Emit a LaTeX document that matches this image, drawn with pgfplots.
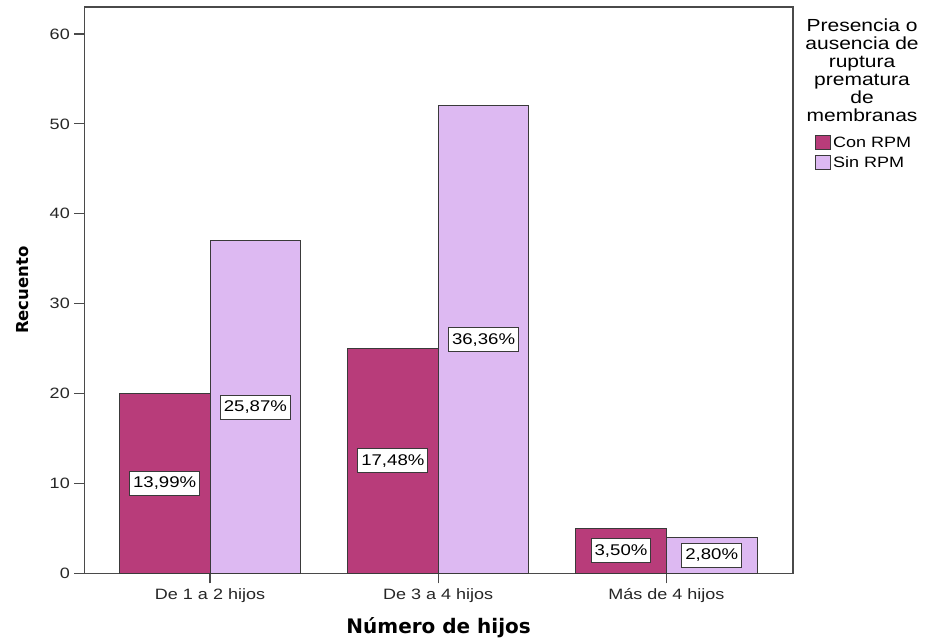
\documentclass[border=0pt]{standalone}
\usepackage{fontspec}
\setmainfont{Liberation Sans}[FakeStretch=1.2]
\newfontfamily\titlefont{DejaVu Sans}
\usepackage{pgfplots}
\pgfplotsset{compat=1.18}
\usepackage{pgfplotstable}

\definecolor{conrpm}{HTML}{B83C7A}
\definecolor{sinrpm}{HTML}{DDB9F2}
\definecolor{edgegray}{HTML}{3A3A3A}
\definecolor{framegray}{HTML}{4A4A4A}

% Recuento por número de hijos y presencia de RPM; porcentajes sobre el total
\pgfplotstableread{
x con sin pcon psin
0 20 37 13,99 25,87
1 25 52 17,48 36,36
2 5  4  3,50  2,80
}\hijos

\pgfplotsset{
  swatch/.style={legend image code/.code={\draw[##1] (0pt,-7pt) rectangle (15pt,7pt);}},
  pctlabel/.style={
    only marks, mark=none, forget plot,
    nodes near coords={\pgfplotspointmeta\%},
    point meta=explicit symbolic,
    nodes near coords align=center,
    every node near coord/.style={anchor=center, draw=edgegray, line width=1pt,
      fill=white, font=\fontsize{15.5}{15.5}\selectfont, text=black,
      inner xsep=3.5pt, minimum height=24pt}},
}

\begin{document}
\begin{tikzpicture}
\useasboundingbox (0,0) rectangle (928pt,640pt);
\begin{axis}[
  at={(84.3pt,66.7pt)}, anchor=south west,
  scale only axis, width=708.7pt, height=566.3pt,
  xmin=-0.551, xmax=2.555, ymin=0, ymax=63,
  xtick={0,1,2},
  xticklabels={De 1 a 2 hijos, De 3 a 4 hijos, Más de 4 hijos},
  ytick={0,10,...,60},
  xtick pos=bottom, ytick pos=left,
  tick align=outside, major tick length=10pt,
  tick style={draw=framegray, line width=1.2pt},
  axis line style={draw=framegray, line width=1.2pt},
  tick label style={font=\fontsize{15}{15}\selectfont, text=black!85},
  /pgf/number format/assume math mode=true,
  xticklabel style={yshift=-2pt},
  yticklabel style={xshift=-1pt},
  xlabel={\titlefont\bfseries\fontsize{20}{20}\selectfont Número de hijos},
  ylabel={\titlefont\bfseries\fontsize{16.5}{16.5}\selectfont Recuento},
  xlabel style={yshift=-8pt},
  ylabel style={yshift=14pt},
  legend style={at={(1.027,0.7775)}, anchor=north west, draw=none, fill=none,
    font=\fontsize{15}{15}\selectfont, row sep=5pt,
    nodes={inner xsep=2pt, inner ysep=1pt}},
  legend cell align=left,
  clip=false,
]
\addplot[ybar, bar width=0.3975, bar shift=-0.19875,
  fill=conrpm, draw=edgegray, line width=0.9pt, swatch]
  table[x=x, y=con] {\hijos};
\addlegendentry{Con RPM}
\addplot[ybar, bar width=0.3975, bar shift=0.19875,
  fill=sinrpm, draw=edgegray, line width=0.9pt, swatch]
  table[x=x, y=sin] {\hijos};
\addlegendentry{Sin RPM}

% etiquetas de porcentaje a media altura de cada barra
\addplot[pctlabel] table[x expr=\thisrow{x}-0.19875, y expr=\thisrow{con}/2, meta=pcon] {\hijos};
\addplot[pctlabel] table[x expr=\thisrow{x}+0.19875, y expr=\thisrow{sin}/2, meta=psin] {\hijos};

\node[align=center, anchor=north, inner sep=0pt,
  font=\fontsize{17.5}{18}\selectfont]
  at (axis description cs:1.0974,0.979)
  {Presencia o\\ausencia de\\ruptura\\prematura\\de\\membranas};
\end{axis}
\end{tikzpicture}
\end{document}
